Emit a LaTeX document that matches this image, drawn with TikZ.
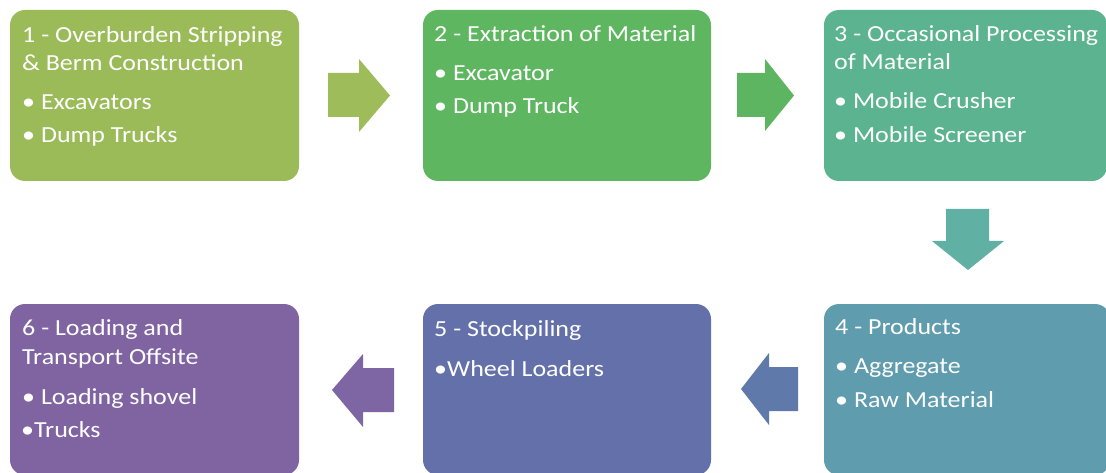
\documentclass[tikz,border=0pt]{standalone}
\usepackage{fontspec}
\setmainfont{Carlito}[FakeStretch=1.13]
\usetikzlibrary{calc}
\definecolor{cOne}{HTML}{9BBB59}
\definecolor{cTwo}{HTML}{5EB660}
\definecolor{cThree}{HTML}{5BB38F}
\definecolor{cFour}{HTML}{5F9CAD}
\definecolor{cFive}{HTML}{6370AA}
\definecolor{cSix}{HTML}{8064A2}
\definecolor{aOne}{HTML}{9EBC5A}
\definecolor{aTwo}{HTML}{5DB562}
\definecolor{aThree}{HTML}{60B0A4}
\definecolor{aFour}{HTML}{5F7AAA}
\definecolor{aFive}{HTML}{7E66A4}
\tikzset{
  stagebox/.style={rounded corners=15pt, draw=none},
  txt/.style={anchor=base west, inner sep=0pt, text=white,
    font=\fontsize{23}{28}\selectfont},
}
\begin{document}
\begin{tikzpicture}[x=1pt,y=-1pt]
\useasboundingbox (0,0) rectangle (1106,473);
\clip (0,0) rectangle (1106,473);
\fill[white] (0,0) rectangle (1106,473);

% stage boxes
\fill[stagebox, cOne]   (10,10)   rectangle (299,181);
\fill[stagebox, cTwo]   (423,10)  rectangle (711,181);
\fill[stagebox, cThree] (824,10)  rectangle (1107,181);
\fill[stagebox, cFour]  (824,304) rectangle (1110,475);
\fill[stagebox, cFive]  (423,304) rectangle (711,475);
\fill[stagebox, cSix]   (10,304)  rectangle (299,475);

% block arrows between stages
\fill[aOne]   (328,73) -- (359,73) -- (359,59) -- (390,95.5) -- (359,132) -- (359,117) -- (328,117) -- cycle;
\fill[aTwo]   (737,73) -- (765,73) -- (765,59) -- (794,95.5) -- (765,131) -- (765,117) -- (737,117) -- cycle;
\fill[aThree] (946,209) -- (989,209) -- (989,241) -- (1004,241) -- (968,270) -- (932,241) -- (946,241) -- cycle;
\fill[aFour]  (798,367) -- (769,367) -- (769,353) -- (741,389) -- (769,425) -- (769,411) -- (798,411) -- cycle;
\fill[aFive]  (394,368) -- (363,368) -- (363,354) -- (332,390) -- (363,427) -- (363,412) -- (394,412) -- cycle;

% stage 1
\node[txt] (t1a) at (22,43)  {1 - Overburden Stripping};
\node[txt] (t1b) at (22,71)  {\& Berm Construction};
\node[txt] (t1c) at (22,110) {• Excavators};
\node[txt] (t1d) at (22,143) {• Dump Trucks};
% stage 2
\node[txt] (t2a) at (434,42)  {2 - Extraction of Material};
\node[txt] (t2b) at (434,81)  {• Excavator};
\node[txt] (t2c) at (434,114) {• Dump Truck};
% stage 3
\node[txt] (t3a) at (834,42)  {3 - Occasional Processing};
\node[txt] (t3b) at (834,70)  {of Material};
\node[txt] (t3c) at (834,109) {• Mobile Crusher};
\node[txt] (t3d) at (834,143) {• Mobile Screener};
% stage 4
\node[txt] (t4a) at (835,334) {4 - Products};
\node[txt] (t4b) at (835,373) {• Aggregate};
\node[txt] (t4c) at (835,407) {• Raw Material};
% stage 5
\node[txt] (t5a) at (434,336) {5 - Stockpiling};
\node[txt] (t5b) at (434,376) {•Wheel Loaders};
% stage 6
\node[txt] (t6a) at (22,335) {6 - Loading and};
\node[txt] (t6b) at (22,364) {Transport Offsite};
\node[txt] (t6c) at (22,404) {• Loading shovel};
\node[txt] (t6d) at (21,437) {•Trucks};
\end{tikzpicture}
\end{document}
